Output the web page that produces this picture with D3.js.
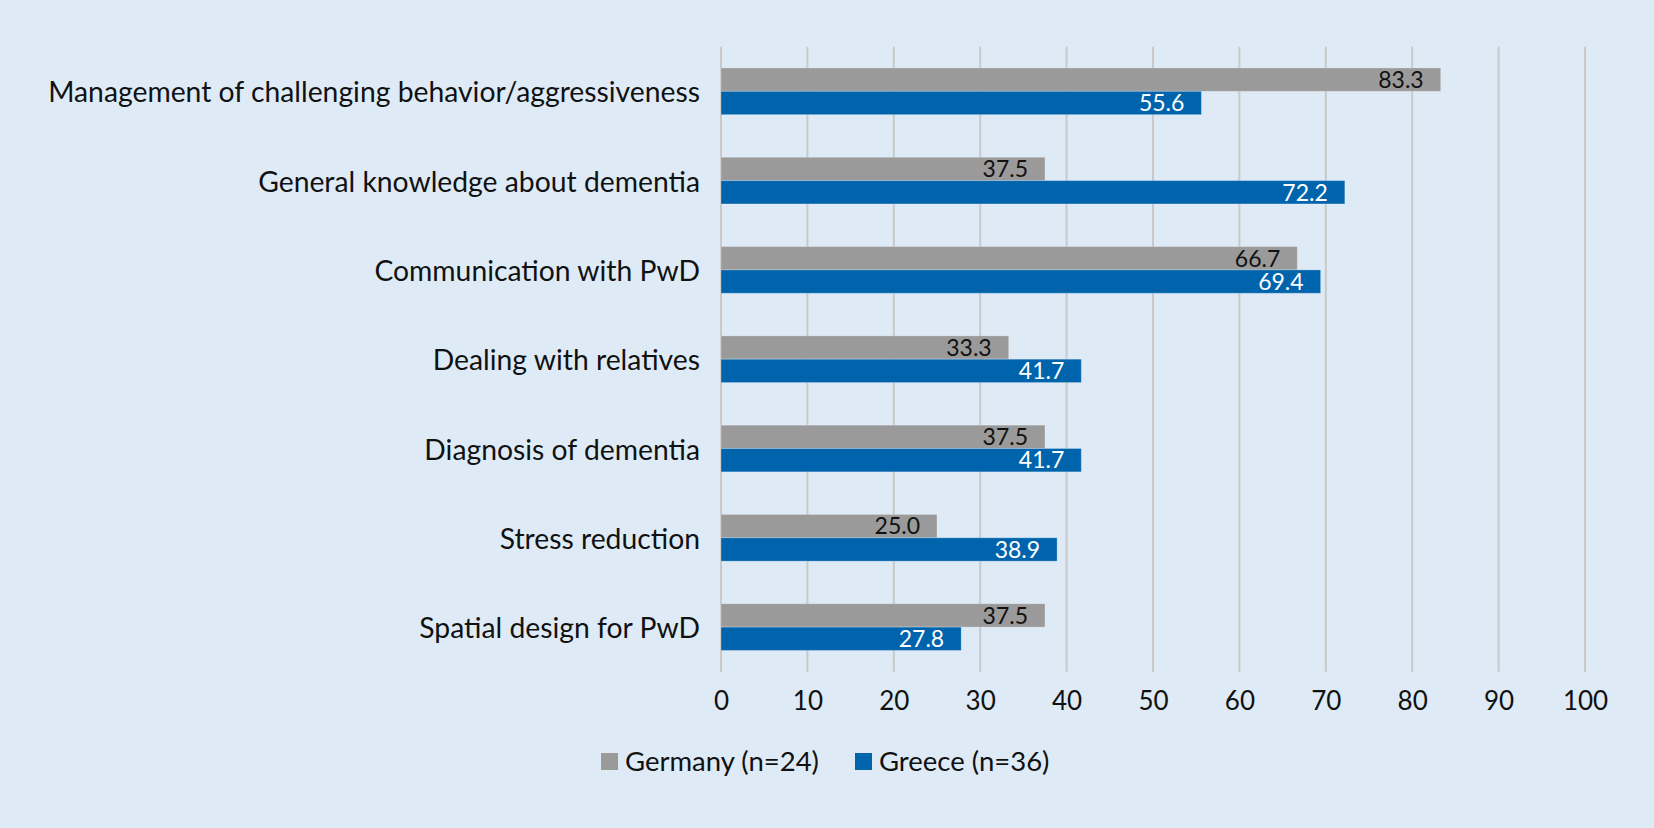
<!DOCTYPE html>
<html>
<head>
<meta charset="utf-8">
<script src="https://cdn.jsdelivr.net/npm/d3@7"></script>
<style>
  html, body { margin: 0; padding: 0; background: #deebf7; }
  svg { display: block; font-family: Lato, "Open Sans", sans-serif; }
</style>
</head>
<body>
<svg id="chart"></svg>
<script>
// categories, top to bottom
var categories = [
    'Management of challenging behavior/aggressiveness',
    'General knowledge about dementia',
    'Communication with PwD',
    'Dealing with relatives ',
    'Diagnosis of dementia',
    'Stress reduction',
    'Spatial design for PwD'
];

var seriesNames = ['Germany (n=24)', 'Greece (n=36)'];
var germany = [83.3, 37.5, 66.7, 33.3, 37.5, 25.0, 37.5];
var greece = [55.6, 72.2, 69.4, 41.7, 41.7, 38.9, 27.8];
var xTicks = [0, 10, 20, 30, 40, 50, 60, 70, 80, 90, 100];

var colors = ['#9a9a9a', '#0064ad'];
var labelColors = ['#111111', '#ffffff'];

var width = 1654, height = 828;
// note: "top" is reserved on window, so use plot* names
var plotLeft = 721, plotRight = 1585, plotTop = 46.7, plotBottom = 671.7;

var svg = d3.select('#chart')
    .attr('width', width)
    .attr('height', height);

svg.append('rect')
    .attr('width', width)
    .attr('height', height)
    .attr('fill', '#deebf7');

var x = d3.scaleLinear().domain([0, 100]).range([plotLeft, plotRight]);

var y = d3.scaleBand()
    .domain(categories)
    .range([plotTop, plotBottom])
    .paddingInner(0.477)
    .paddingOuter(0.238);

var sub = d3.scaleBand()
    .domain(seriesNames)
    .range([0, y.bandwidth()]);

// vertical gridlines
svg.append('g')
    .selectAll('line')
    .data(xTicks)
    .enter().append('line')
    .attr('x1', function (d) { return x(d); })
    .attr('x2', function (d) { return x(d); })
    .attr('y1', plotTop)
    .attr('y2', plotBottom)
    .attr('stroke', '#c9c9c9')
    .attr('stroke-width', 2);

// x axis labels
var xAxis = d3.axisBottom(x)
    .tickValues(xTicks)
    .tickSize(0)
    .tickPadding(0)
    .tickFormat(d3.format('d'));

var gx = svg.append('g')
    .attr('transform', 'translate(0,' + (plotBottom + 20) + ')')
    .call(xAxis);
gx.select('.domain').remove();
gx.selectAll('text')
    .attr('dy', '0.71em')
    .attr('fill', '#111')
    .style('font-size', '26px')
    .style('font-family', 'Lato, "Open Sans", sans-serif');

// category labels
var yAxis = d3.axisLeft(y).tickSize(0).tickPadding(21);
var gy = svg.append('g')
    .attr('transform', 'translate(' + plotLeft + ',2)')
    .call(yAxis);
gy.select('.domain').remove();
gy.selectAll('text')
    .attr('fill', '#111')
    .style('font-size', '29px')
    .style('font-family', 'Lato, "Open Sans", sans-serif');

// fit longest label to its width in the reference
var longest = gy.selectAll('text').nodes()[0];
var w = longest.getComputedTextLength();
var fs = 29 * 652 / w;
gy.selectAll('text').style('font-size', fs + 'px');

// bars
var rows = categories.map(function (c, i) {
    return { cat: c, values: [germany[i], greece[i]] };
});

var groups = svg.append('g')
    .selectAll('g')
    .data(rows)
    .enter().append('g')
    .attr('transform', function (d) { return 'translate(0,' + y(d.cat) + ')'; });

groups.selectAll('rect')
    .data(function (d) { return d.values; })
    .enter().append('rect')
    .attr('x', x(0))
    .attr('y', function (d, i) { return sub(seriesNames[i]); })
    .attr('width', function (d) { return x(d) - x(0); })
    .attr('height', sub.bandwidth())
    .attr('fill', function (d, i) { return colors[i]; })
    .attr('stroke', 'rgba(255,255,255,0.25)')
    .attr('stroke-width', 1);

groups.selectAll('text')
    .data(function (d) { return d.values; })
    .enter().append('text')
    .attr('x', function (d) { return x(d) - 17; })
    .attr('y', function (d, i) { return sub(seriesNames[i]) + sub.bandwidth() / 2; })
    .attr('dy', '0.36em')
    .attr('text-anchor', 'end')
    .attr('fill', function (d, i) { return labelColors[i]; })
    .style('font-size', '23px')
    .text(function (d) { return d.toFixed(1); });

// legend
var legendX = [601, 855];
var legend = svg.append('g')
    .selectAll('g')
    .data(seriesNames)
    .enter().append('g')
    .attr('transform', function (d, i) { return 'translate(' + legendX[i] + ',753)'; });

legend.append('rect')
    .attr('width', 17)
    .attr('height', 17)
    .attr('fill', function (d, i) { return colors[i]; });

legend.append('text')
    .attr('x', 24)
    .attr('y', 8.5)
    .attr('dy', '0.36em')
    .attr('fill', '#111')
    .style('font-size', '27.5px')
    .text(function (d) { return d; });
</script>
</body>
</html>
